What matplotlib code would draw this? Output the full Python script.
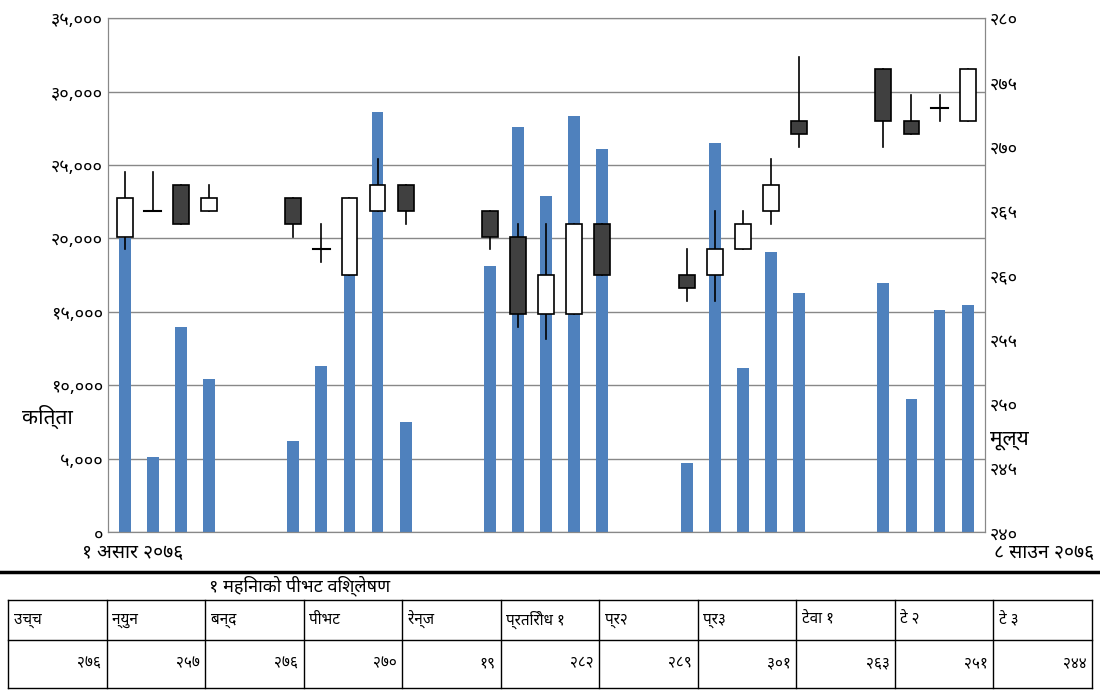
import matplotlib
matplotlib.use("Agg")
import matplotlib.pyplot as plt
from matplotlib.patches import Rectangle
from matplotlib.lines import Line2D

plt.rcParams['font.family'] = ['Noto Sans Devanagari', 'Noto Sans', 'DejaVu Sans']

DEV = str.maketrans("0123456789", "०१२३४५६७८९")
def dev(s):
    return str(s).translate(DEV)

# trading slots (31 calendar-ish positions, gaps are non-trading days)
slots = [0, 1, 2, 3, 6, 7, 8, 9, 10, 13, 14, 15, 16, 17, 20, 21, 22, 23, 24, 27, 28, 29, 30]
volume = [20000, 5100, 14000, 10400, 6200, 11300, 17500, 28600, 7500,
          18100, 27600, 22900, 28300, 26100, 4700, 26500, 11200, 19100, 16300,
          17000, 9100, 15100, 15500]
open_ = [263, 265, 267, 265, 266, 262, 260, 265, 267, 265, 263, 257, 257, 264,
         260, 260, 262, 265, 272, 276, 272, 273, 272]
close = [266, 265, 264, 266, 264, 262, 266, 267, 265, 263, 257, 260, 264, 260,
         259, 262, 264, 267, 271, 272, 271, 273, 276]
high = [268, 268, 267, 267, 266, 264, 266, 269, 267, 265, 264, 264, 264, 264,
        262, 265, 265, 269, 277, 276, 274, 274, 276]
low = [262, 265, 264, 265, 263, 261, 260, 265, 264, 262, 256, 255, 257, 260,
       258, 258, 262, 264, 270, 270, 271, 272, 272]

tbl_title = "१ महिनाको पीभट विश्लेषण"
tbl_head = ["उच्च", "न्युन", "बन्द", "पीभट", "रेन्ज", "प्रतिरोध १", "प्र२", "प्र३", "टेवा १", "टे २", "टे ३"]
tbl_vals = ["२७६", "२५७", "२७६", "२७०", "१९", "२८२", "२८९", "३०१", "२६३", "२५१", "२४४"]

fig = plt.figure(figsize=(11, 6.94), dpi=100)
ax = fig.add_axes([0.098, 0.233, 0.797, 0.741])
ax2 = ax.twinx()

ax.set_xlim(-0.6, 30.6)
ax.set_ylim(0, 35000)
ax2.set_ylim(240, 280)
ax.bar(slots, volume, width=0.42, color="#4f81bd", zorder=2)
ax.set_yticks(range(0, 35001, 5000))
ax.set_yticklabels([dev(f"{v:,}") for v in range(0, 35001, 5000)], fontsize=13, fontweight="bold")
ax.yaxis.grid(True, color="#888888", lw=1, zorder=0)
ax.set_axisbelow(True)
ax.set_xticks([])
ax.tick_params(axis="y", length=0)

for x, o, c, h, l in zip(slots, open_, close, high, low):
    ax2.plot([x, x], [l, h], color="black", lw=1.2, zorder=3)
    if o == c:
        ax2.plot([x - 0.3, x + 0.3], [o, o], color="black", lw=1.5, zorder=4)
    else:
        fc = "white" if c > o else "#404040"
        ax2.add_patch(Rectangle((x - 0.28, min(o, c)), 0.56, abs(c - o), facecolor=fc,
                                edgecolor="black", lw=1.2, zorder=4))
ax2.set_yticks(range(240, 281, 5))
ax2.set_yticklabels([dev(v) for v in range(240, 281, 5)], fontsize=13, fontweight="bold")
ax2.tick_params(axis="y", length=0)
for a in (ax, ax2):
    for s in a.spines.values():
        s.set_color("#888888")

fig.text(0.02, 0.39, "कित्ता", fontsize=15, fontweight="bold")
fig.text(0.9, 0.36, "मूल्य", fontsize=15, fontweight="bold")
fig.text(0.075, 1 - 543 / 694, "१ असार २०७६", fontsize=14, fontweight="bold", va="top")
fig.text(0.995, 1 - 543 / 694, "८ साउन २०७६", fontsize=14, fontweight="bold", ha="right", va="top")

# table under the chart
fig.add_artist(Line2D([0, 1], [1 - 572 / 694] * 2, color="black", lw=2.5))
fig.text(0.19, 1 - 586 / 694, tbl_title, fontsize=13, fontweight="bold", va="center")
x0, x1 = 8 / 1100, 1092 / 1100
ys = [1 - 600 / 694, 1 - 640 / 694, 1 - 688 / 694]
for y in ys:
    fig.add_artist(Line2D([x0, x1], [y, y], color="black", lw=1))
cw = (x1 - x0) / len(tbl_head)
for i in range(len(tbl_head) + 1):
    fig.add_artist(Line2D([x0 + i * cw] * 2, [ys[0], ys[2]], color="black", lw=1))
for i, (h, v) in enumerate(zip(tbl_head, tbl_vals)):
    fig.text(x0 + i * cw + 0.005, (ys[0] + ys[1]) / 2, h, fontsize=11, fontweight="bold", va="center")
    fig.text(x0 + (i + 1) * cw - 0.005, (ys[1] + ys[2]) / 2, v, fontsize=11, va="center", ha="right")

fig.savefig("out.png")
